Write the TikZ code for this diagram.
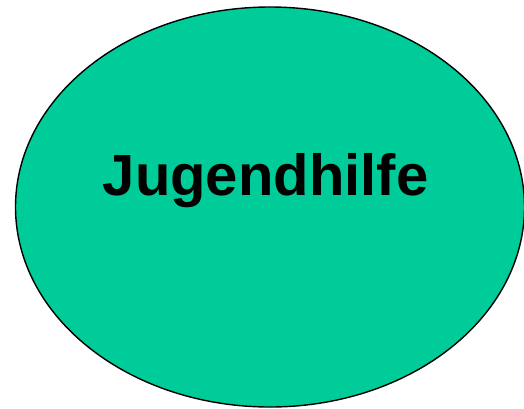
\documentclass[tikz,border=0pt]{standalone}
\usepackage{fontspec}
\setmainfont{Liberation Sans}
\usepackage{xcolor}
\usepackage{tikz}
\usetikzlibrary{positioning,shapes.geometric}
\definecolor{jhgreen}{HTML}{00CC99}

\begin{document}
\begin{tikzpicture}[x=1pt,y=-1pt]
\useasboundingbox (0,0) rectangle (524,408);
\node[ellipse, draw=black, fill=jhgreen, line width=1.4pt, minimum width=509pt, minimum height=400pt, inner sep=0pt] (jugend) at (270,207) {};
\node[anchor=base, inner sep=0pt, font=\fontsize{58}{70}\selectfont\bfseries] (jugendtext) at (265.5,195) {Jugendhilfe};
\end{tikzpicture}
\end{document}
